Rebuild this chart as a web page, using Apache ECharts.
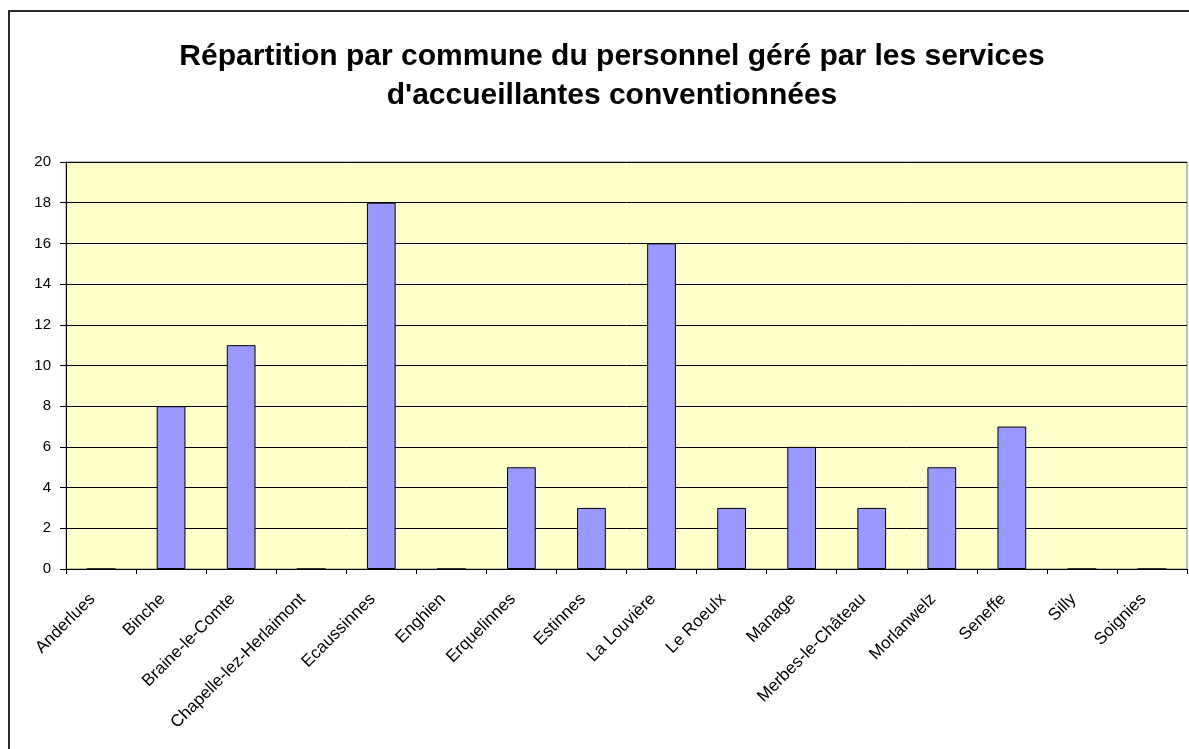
<!DOCTYPE html>
<html>
<head>
<meta charset="utf-8">
<script src="https://cdn.jsdelivr.net/npm/echarts@6/dist/echarts.min.js"></script>
<style>
  html, body { margin: 0; padding: 0; background: #fff; }
  #chart { width: 1189px; height: 749px; }
</style>
</head>
<body>
<div id="chart"></div>
<script>
// communes and number of staff
let communes = ['Anderlues', 'Binche', 'Braine-le-Comte', 'Chapelle-lez-Herlaimont', 'Ecaussinnes',
    'Enghien', 'Erquelinnes', 'Estinnes', 'La Louvière', 'Le Roeulx', 'Manage',
    'Merbes-le-Château', 'Morlanwelz', 'Seneffe', 'Silly', 'Soignies'];
let personnel = [0, 8, 11, 0, 18, 0, 5, 3, 16, 3, 6, 3, 5, 7, 0, 0];
let yMin = 0, yMax = 20, yStep = 2;

let chart = echarts.init(document.getElementById('chart'));
let font = 'Liberation Sans, Arial, sans-serif';

let option = {
    backgroundColor: '#ffffff',
    animation: false,
    title: {
        text: "Répartition par commune du personnel géré par les services\nd'accueillantes conventionnées",
        left: 607,
        textAlign: 'center',
        top: 32,
        textStyle: {
            fontFamily: font,
            fontWeight: 'bold',
            fontSize: 30,
            lineHeight: 39,
            color: '#000'
        }
    },
    // frame around the whole chart (right / bottom edges are off the picture)
    graphic: [{
        type: 'rect',
        shape: {x: 9, y: 11, width: 1400, height: 1000},
        style: {fill: 'none', stroke: '#2a2a2a', lineWidth: 2},
        silent: true
    }],
    grid: {
        left: 66, right: 2, top: 162, bottom: 180,
        show: true,
        backgroundColor: '#FFFFCC',
        borderColor: '#808080',
        borderWidth: 1
    },
    xAxis: {
        type: 'category',
        data: communes,
        axisLine: {lineStyle: {color: '#000', width: 1}},
        axisTick: {show: true, length: 5, lineStyle: {color: '#000'}},
        axisLabel: {
            interval: 0,
            rotate: 45,
            margin: 19,
            padding: [0, 12, 0, 0],
            fontFamily: font,
            fontSize: 17,
            color: '#000'
        }
    },
    yAxis: {
        type: 'value',
        min: yMin, max: yMax, interval: yStep,
        axisLine: {show: true, lineStyle: {color: '#000', width: 1}},
        axisTick: {show: true, length: 6, lineStyle: {color: '#000'}},
        axisLabel: {
            margin: 15,
            fontFamily: font,
            fontSize: 15,
            color: '#000'
        },
        splitLine: {show: true, lineStyle: {color: '#000', width: 1}}
    },
    series: [{
        type: 'bar',
        data: personnel,
        barWidth: '41%',
        itemStyle: {
            color: '#9999FF',
            borderColor: '#000',
            borderWidth: 1
        }
    }]
};

chart.setOption(option);
</script>
</body>
</html>
